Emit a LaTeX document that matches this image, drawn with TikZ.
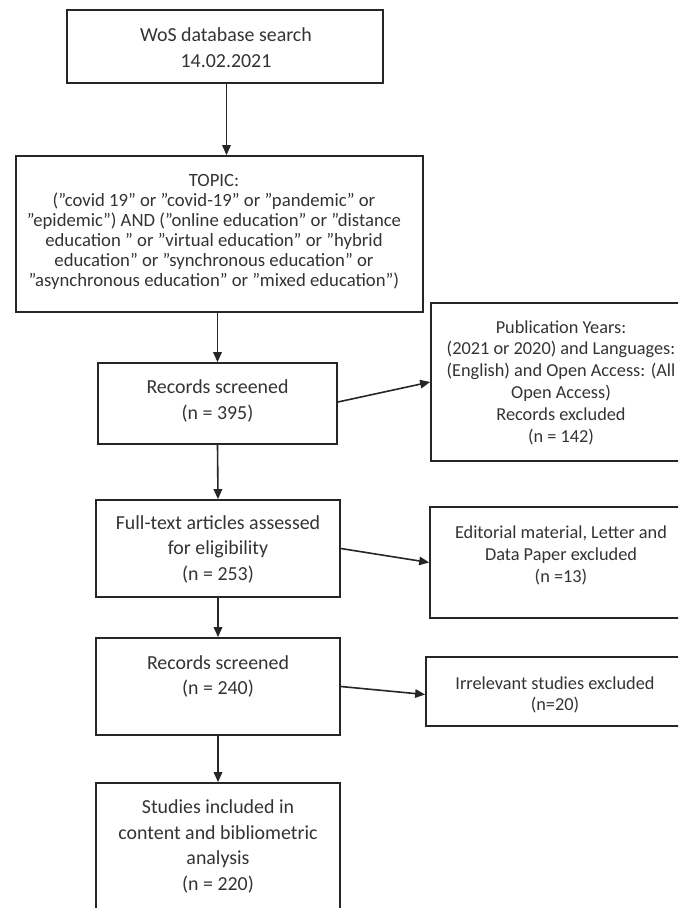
\documentclass[tikz,border=0pt]{standalone}
\usepackage{fontspec}
\setmainfont{Carlito}[Ligatures=ResetAll]
\usetikzlibrary{arrows.meta}
\begin{document}
\begin{tikzpicture}[x=1pt,y=1pt,
  boxx/.style={draw=black!85, line width=1.7pt, rectangle, inner sep=0pt},
  txt/.style={align=center, inner sep=0pt, text=black!80},
  big/.style={font=\fontsize{19.9}{25.5}\selectfont},
  mid/.style={font=\fontsize{18.3}{21.8}\selectfont},
  small/.style={font=\fontsize{18.7}{20}\selectfont},
  arr/.style={draw=black!85, line width=1.6pt, -{Triangle[length=10pt,width=8.5pt]}}]
\useasboundingbox (0,0) rectangle (678,-908);
\clip (0,0) rectangle (678,-908);
% boxes
\node[boxx, minimum width=316, minimum height=73] (b1) at (225,-46.5) {};
\node[boxx, minimum width=407, minimum height=156] (b2) at (219.5,-234) {};
\node[boxx, minimum width=239, minimum height=81] (b3) at (217.5,-403.5) {};
\node[boxx, minimum width=244, minimum height=97] (b4) at (218,-548.5) {};
\node[boxx, minimum width=244, minimum height=97] (b5) at (218,-686.5) {};
\node[boxx, minimum width=244, minimum height=160] (b6) at (218,-863) {};
\node[boxx, minimum width=262, minimum height=158] (r1) at (562,-382) {};
\node[boxx, minimum width=262, minimum height=111] (r2) at (561,-562.5) {};
\node[boxx, minimum width=262, minimum height=69] (r3) at (557,-691.5) {};
% texts
\node[txt, big] (t1) at (226,-47.5) {WoS database search\\14.02.2021};
\node[txt, small] (t2) at (214,-232) {TOPIC:\\("covid 19" or "covid-19" or "pandemic" or\\"epidemic") AND ("online education" or "distance\\education " or "virtual education" or "hybrid\\education" or "synchronous education" or\\"asynchronous education" or "mixed education")};
\node[txt, big] (t3) at (217.5,-401) {Records screened\\(n = 395)};
\node[txt, big] (t4) at (218,-549) {Full-text articles assessed\\for eligibility\\(n = 253)};
\node[txt, big] (t5) at (218,-676.5) {Records screened\\(n = 240)};
\node[txt, big] (t6) at (218,-846.5) {Studies included in\\content and bibliometric\\analysis\\(n = 220)};
\node[txt, mid] (t7) at (561,-382.5) {Publication Years:\\(2021 or 2020) and Languages:\\(English) and Open Access: (All\\Open Access)\\Records excluded\\(n = 142)};
\node[txt, mid] (t8) at (561,-555.5) {Editorial material, Letter and\\Data Paper excluded\\(n =13)};
\node[txt, mid] (t9) at (555,-695) {Irrelevant studies excluded\\(n=20)};
% connectors
\draw[arr] ([xshift=1.5pt]b1.south) -- ([xshift=1.5pt]b1.south |- b2.north);
\draw[arr] (b3.north |- b2.south) -- (b3.north);
\draw[arr] (b3.south) -- (b4.north);
\draw[arr] (b4.south) -- (b5.north);
\draw[arr] (b5.south) -- (b6.north);
\draw[arr] ([yshift=1.5pt]b3.east) -- (r1.west);
\draw[arr] (b4.east) -- (r2.west);
\draw[arr] (b5.east) -- ([yshift=-3pt]r3.west);
\end{tikzpicture}
\end{document}
